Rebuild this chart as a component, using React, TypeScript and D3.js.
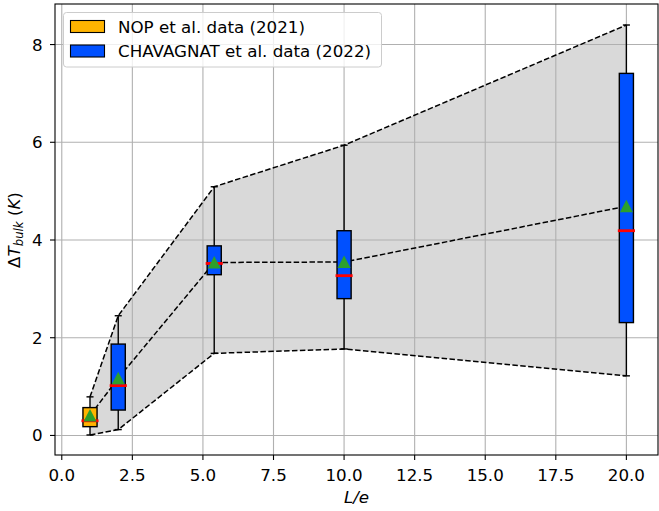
import React from "react";
import * as d3 from "d3";

// box statistics
const positions = [1, 2, 5.4, 10, 20];
const groups = ["nop", "chavagnat", "chavagnat", "chavagnat", "chavagnat"];
const whiskerLow = [0.01, 0.12, 1.68, 1.77, 1.22];
const q1 = [0.18, 0.52, 3.29, 2.8, 2.31];
const medians = [0.3, 1.02, 3.52, 3.27, 4.19];
const q3 = [0.57, 1.87, 3.88, 4.19, 7.41];
const whiskerHigh = [0.79, 2.45, 5.09, 5.94, 8.4];
const means = [0.41, 1.17, 3.54, 3.55, 4.69];

const xTicks = [0, 2.5, 5, 7.5, 10, 12.5, 15, 17.5, 20];
const yTicks = [0, 2, 4, 6, 8];

const legendItems = [
  { key: "nop", label: "NOP et al. data (2021)" },
  { key: "chavagnat", label: "CHAVAGNAT et al. data (2022)" },
];

const colors: Record<string, string> = {
  nop: "#ffb400",
  chavagnat: "#0050ff",
};

const W = 659;
const H = 511;
const plot = { left: 55, right: 658, top: 4, bottom: 455 };
const font = "DejaVu Sans, sans-serif";
const fs = 16.7;
const boxWidth = 0.5;

export default function App() {
  const x = d3.scaleLinear().domain([-0.24, 21.12]).range([plot.left, plot.right]);
  const y = d3.scaleLinear().domain([-0.4, 8.83]).range([plot.bottom, plot.top]);

  const rows = positions.map((p, i) => ({
    p,
    group: groups[i],
    lo: whiskerLow[i],
    q1: q1[i],
    med: medians[i],
    q3: q3[i],
    hi: whiskerHigh[i],
    mean: means[i],
  }));

  const area = d3
    .area<(typeof rows)[number]>()
    .x((d) => x(d.p))
    .y0((d) => y(d.lo))
    .y1((d) => y(d.hi));

  const line = d3.line<[number, number]>().x((d) => x(d[0])).y((d) => y(d[1]));
  const upper = line(rows.map((d) => [d.p, d.hi]));
  const middle = line(rows.map((d) => [d.p, d.mean]));
  const lower = line(rows.map((d) => [d.p, d.lo]));

  const bw = x(boxWidth) - x(0);

  return (
    <svg
      width={W}
      height={H}
      style={{ position: "fixed", left: 0, top: 0, background: "#fff" }}
      fontFamily={font}
    >
      <defs>
        <clipPath id="plotClip">
          <rect x={plot.left} y={plot.top} width={plot.right - plot.left} height={plot.bottom - plot.top} />
        </clipPath>
      </defs>

      <g clipPath="url(#plotClip)">
        <path d={area(rows) || ""} fill="#d9d9d9" />

        {/* grid */}
        {xTicks.map((t) => (
          <line key={"gx" + t} x1={x(t)} x2={x(t)} y1={plot.top} y2={plot.bottom} stroke="#b0b0b0" strokeWidth={1.1} />
        ))}
        {yTicks.map((t) => (
          <line key={"gy" + t} x1={plot.left} x2={plot.right} y1={y(t)} y2={y(t)} stroke="#b0b0b0" strokeWidth={1.1} />
        ))}

        {[upper, middle, lower].map((d, i) => (
          <path key={"dl" + i} d={d || ""} fill="none" stroke="#000" strokeWidth={1.5} strokeDasharray="5.5 2.4" />
        ))}

        {rows.map((d, i) => {
          const cx = x(d.p);
          return (
            <g key={"box" + i}>
              <line x1={cx} x2={cx} y1={y(d.hi)} y2={y(d.q3)} stroke="#000" strokeWidth={1.4} />
              <line x1={cx} x2={cx} y1={y(d.q1)} y2={y(d.lo)} stroke="#000" strokeWidth={1.4} />
              <line x1={cx - bw / 4} x2={cx + bw / 4} y1={y(d.hi)} y2={y(d.hi)} stroke="#000" strokeWidth={1.4} />
              <line x1={cx - bw / 4} x2={cx + bw / 4} y1={y(d.lo)} y2={y(d.lo)} stroke="#000" strokeWidth={1.4} />
              <rect
                x={cx - bw / 2}
                y={y(d.q3)}
                width={bw}
                height={y(d.q1) - y(d.q3)}
                fill={colors[d.group]}
                stroke="#000"
                strokeWidth={1.4}
              />
              <line
                x1={cx - bw / 2 - 1.5}
                x2={cx + bw / 2 + 1.5}
                y1={y(d.med)}
                y2={y(d.med)}
                stroke="#ff0000"
                strokeWidth={2.8}
              />
              <path
                d={`M${cx},${y(d.mean) - 6.5} L${cx + 6.5},${y(d.mean) + 6} L${cx - 6.5},${y(d.mean) + 6} Z`}
                fill="#2ca02c"
              />
            </g>
          );
        })}
      </g>

      {/* spines */}
      <rect
        x={plot.left}
        y={plot.top}
        width={plot.right - plot.left}
        height={plot.bottom - plot.top}
        fill="none"
        stroke="#000"
        strokeWidth={1.1}
      />

      {/* x axis */}
      {xTicks.map((t) => (
        <g key={"xt" + t}>
          <line x1={x(t)} x2={x(t)} y1={plot.bottom} y2={plot.bottom + 5} stroke="#000" strokeWidth={1.1} />
          <text x={x(t)} y={480.5} textAnchor="middle" fontSize={fs} fill="#000">
            {t.toFixed(1)}
          </text>
        </g>
      ))}
      <text x={(plot.left + plot.right) / 2} y={503} textAnchor="middle" fontSize={fs} fontStyle="italic">
        L/e
      </text>

      {/* y axis */}
      {yTicks.map((t) => (
        <g key={"yt" + t}>
          <line x1={plot.left - 5} x2={plot.left} y1={y(t)} y2={y(t)} stroke="#000" strokeWidth={1.1} />
          <text x={plot.left - 12.3} y={y(t) + 6} textAnchor="end" fontSize={fs} fill="#000">
            {t}
          </text>
        </g>
      ))}
      <text transform={`translate(19.5,230) rotate(-90)`} textAnchor="middle" fontSize={fs}>
        <tspan>Δ</tspan>
        <tspan fontStyle="italic">T</tspan>
        <tspan fontStyle="italic" fontSize={11.7} dy={3.5}>
          bulk
        </tspan>
        <tspan dy={-3.5}>{" ("}</tspan>
        <tspan fontStyle="italic">K</tspan>
        <tspan>)</tspan>
      </text>

      {/* legend */}
      <g>
        <rect x={63.5} y={12.5} width={318} height={54.5} rx={3} fill="#fff" fillOpacity={0.8} stroke="#cccccc" strokeWidth={1} />
        {legendItems.map((it, i) => (
          <g key={it.key} transform={`translate(0,${i * 24.5})`}>
            <rect x={70.5} y={20.5} width={34} height={12} fill={colors[it.key]} stroke="#000" strokeWidth={1.1} />
            <text x={118} y={32.5} fontSize={fs} fill="#000">
              {it.label}
            </text>
          </g>
        ))}
      </g>
    </svg>
  );
}
